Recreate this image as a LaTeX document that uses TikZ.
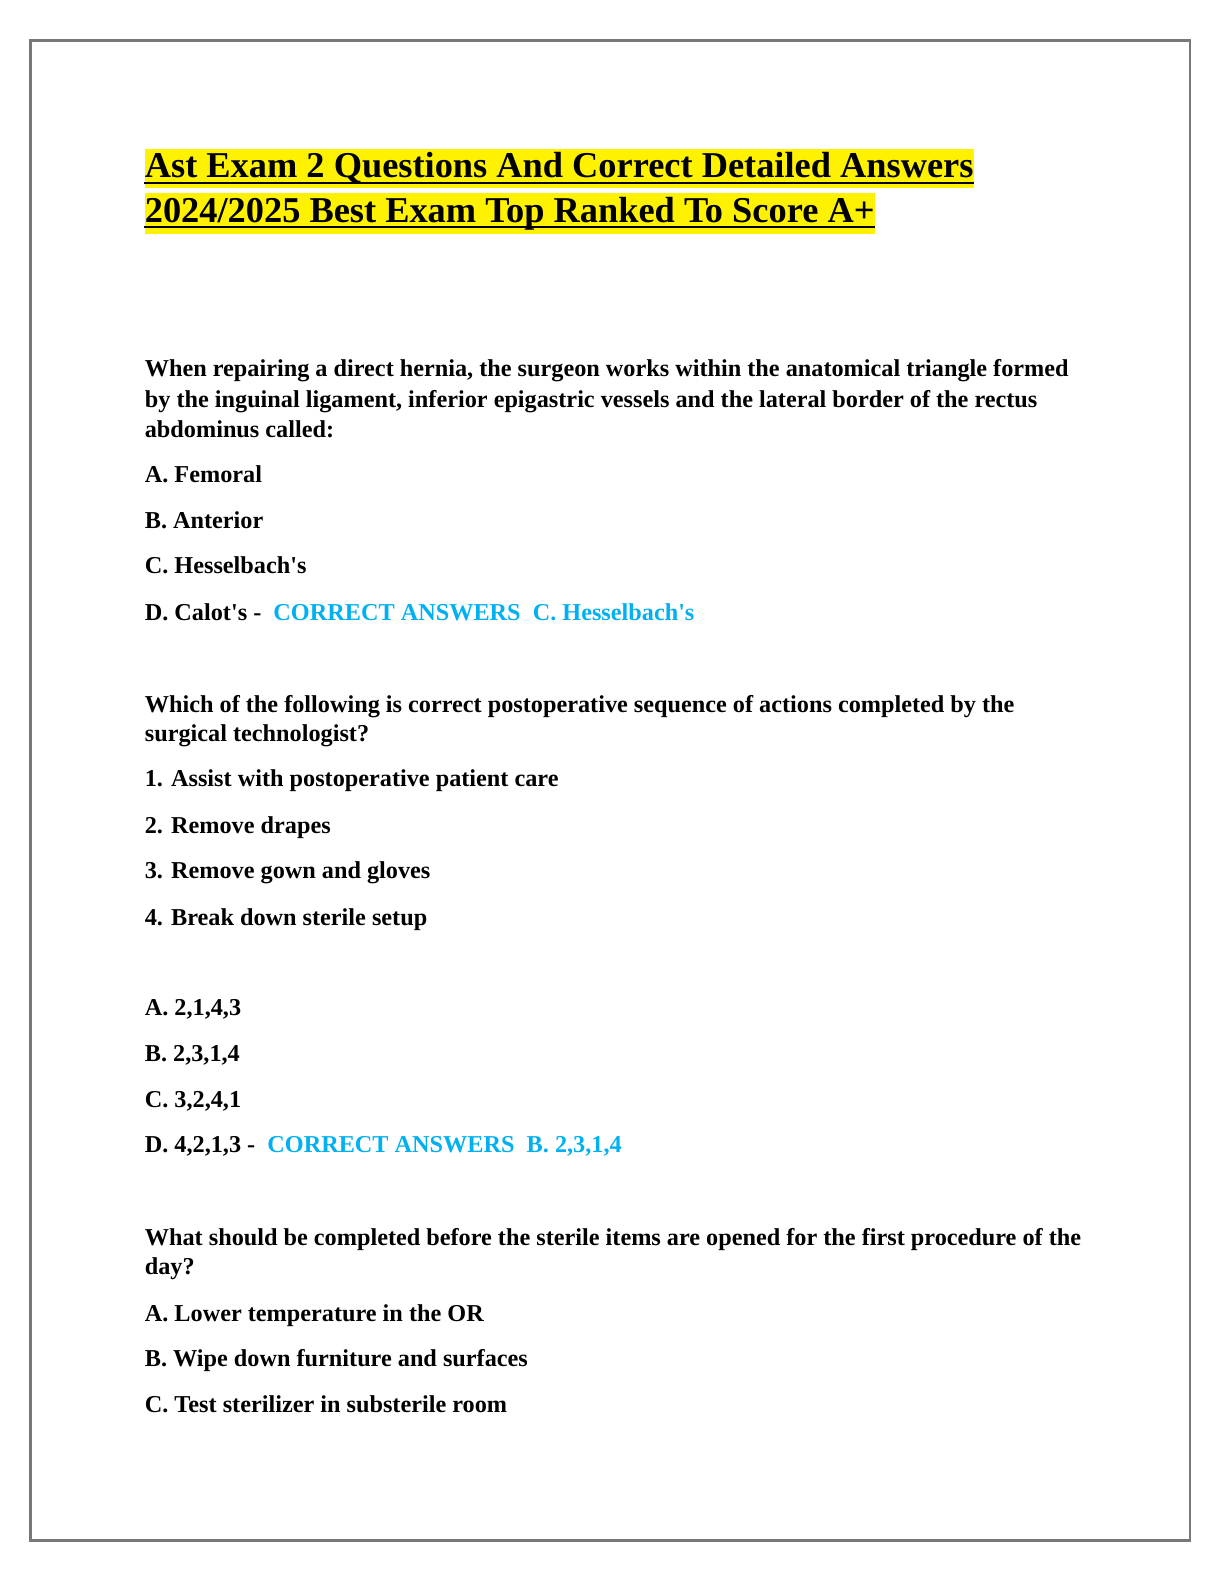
\documentclass[tikz,border=0pt]{standalone}
\usepackage{fontspec}
\setmainfont{Liberation Serif}
\usetikzlibrary{positioning}
\definecolor{answercyan}{RGB}{0,176,240}
\definecolor{framegray}{RGB}{120,120,120}
\tikzset{
  line/.style={anchor=base west, inner sep=0pt, font=\fontsize{12pt}{14pt}\selectfont\bfseries},
  head/.style={anchor=base west, inner xsep=0pt, inner ysep=2pt, fill=yellow, font=\fontsize{18pt}{21pt}\selectfont\bfseries},
  ans/.style={text=answercyan}
}
\newcommand{\ansmark}[1]{\textcolor{answercyan}{#1}}
\newcommand{\apos}{\textquotesingle}
\begin{document}
\begin{tikzpicture}[x=0.5pt,y=-0.5pt]
  \useasboundingbox (0,0) rectangle (1212,1568);
  % page frame
  \draw[framegray, line width=1.2pt] (30,40) rectangle (1178,1525);

  % title
  \node[head] (title1) at (143,176) {Ast Exam 2 Questions And Correct Detailed Answers};
  \node[head] (title2) at (143,220) {2024/2025 Best Exam Top Ranked To Score A+};
  \draw[line width=1pt] ([yshift=-2.5pt]title1.base west) -- ([yshift=-2.5pt]title1.base east);
  \draw[line width=1pt] ([yshift=-2.5pt]title2.base west) -- ([yshift=-2.5pt]title2.base east);

  % question 1
  \node[line] (q1a) at (143,373) {When repairing a direct hernia, the surgeon works within the anatomical triangle formed};
  \node[line] (q1b) at (143,403) {by the inguinal ligament, inferior epigastric vessels and the lateral border of the rectus};
  \node[line] (q1c) at (143,433) {abdominus called:};
  \node[line] (q1A) at (143,478) {A. Femoral};
  \node[line] (q1B) at (143,523) {B. Anterior};
  \node[line] (q1C) at (143,568) {C. Hesselbach\apos s};
  \node[line] (q1D) at (143,614) {D. Calot\apos s - \ \ansmark{CORRECT ANSWERS \ C. Hesselbach\apos s}};

  % question 2
  \node[line] (q2a) at (143,705) {Which of the following is correct postoperative sequence of actions completed by the};
  \node[line] (q2b) at (143,734) {surgical technologist?};
  \node[line] (q2s1) at (143,779) {1. Assist with postoperative patient care};
  \node[line] (q2s2) at (143,825) {2. Remove drapes};
  \node[line] (q2s3) at (143,870) {3. Remove gown and gloves};
  \node[line] (q2s4) at (143,916) {4. Break down sterile setup};
  \node[line] (q2A) at (143,1005) {A. 2,1,4,3};
  \node[line] (q2B) at (143,1051) {B. 2,3,1,4};
  \node[line] (q2C) at (143,1096) {C. 3,2,4,1};
  \node[line] (q2D) at (143,1141) {D. 4,2,1,3 - \ \ansmark{CORRECT ANSWERS \ B. 2,3,1,4}};

  % question 3
  \node[line] (q3a) at (143,1233) {What should be completed before the sterile items are opened for the first procedure of the};
  \node[line] (q3b) at (143,1262) {day?};
  \node[line] (q3A) at (143,1308) {A. Lower temperature in the OR};
  \node[line] (q3B) at (143,1353) {B. Wipe down furniture and surfaces};
  \node[line] (q3C) at (143,1398) {C. Test sterilizer in substerile room};
\end{tikzpicture}
\end{document}
